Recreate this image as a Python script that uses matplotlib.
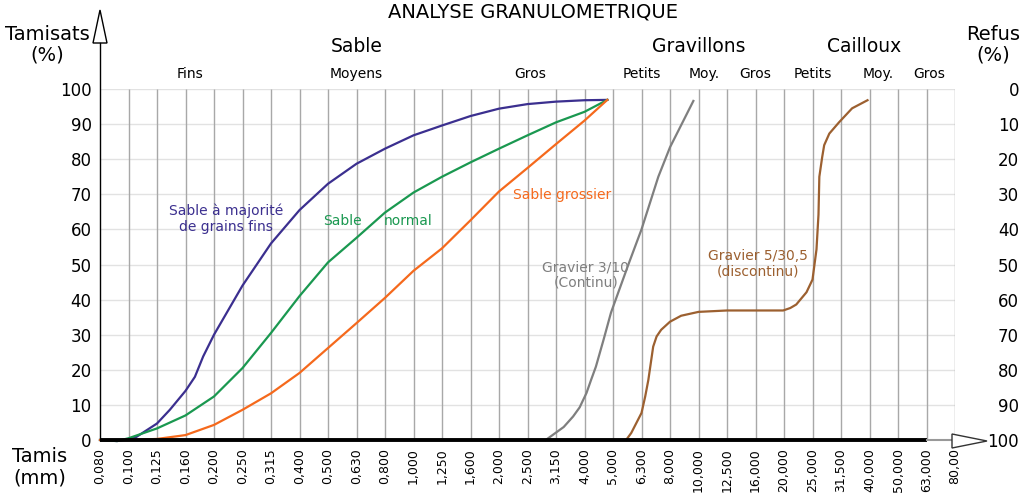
import matplotlib
matplotlib.use('Agg')
import matplotlib.pyplot as plt
from matplotlib.patches import Polygon
from matplotlib.lines import Line2D

# sieve openings (mm), one column per sieve
sieves = ['0,080', '0,100', '0,125', '0,160', '0,200', '0,250', '0,315', '0,400',
          '0,500', '0,630', '0,800', '1,000', '1,250', '1,600', '2,000', '2,500',
          '3,150', '4,000', '5,000', '6,300', '8,000', '10,000', '12,500', '16,000',
          '20,000', '25,000', '31,500', '40,000', '50,000', '63,000', '80,00']
percent_ticks = [0, 10, 20, 30, 40, 50, 60, 70, 80, 90, 100]

# curves: x = position on the sieve scale (column index), y = % passing
fins_x = [0, 0.6, 1, 1.28, 2, 2.45, 3, 3.33, 3.62, 4, 5, 6, 7, 8, 9, 10, 11, 12, 13, 14, 15, 16, 17, 17.8]
fins_y = [0, -0.3, 0.2, 0.9, 4.7, 8.6, 14, 18, 23.8, 30, 44, 56, 65.5, 73, 78.7, 83, 86.8, 89.6, 92.3,
          94.4, 95.7, 96.4, 96.8, 96.9]

normal_x = [0, 0.6, 1, 2, 3, 4, 5, 6, 7, 8, 9, 10, 11, 12, 13, 14, 15, 16, 17, 17.8]
normal_y = [0, -0.3, 0.5, 3.3, 7, 12.4, 20.5, 30.5, 41, 50.6, 57.6, 64.8, 70.5, 75, 79.1, 83, 86.8, 90.5, 93.5, 96.9]

grossier_x = [0, 1, 2, 3, 4, 5, 6, 7, 8, 9, 10, 11, 12, 13, 14, 15, 16, 17, 17.8]
grossier_y = [0, 0, 0.3, 1.4, 4.3, 8.6, 13.3, 19.1, 26.2, 33.3, 40.5, 48.2, 54.6, 62.6, 70.8, 77.5, 84.3, 91, 96.9]

g310_x = [15.64, 16.27, 16.6, 16.83, 17.07, 17.23, 17.4, 17.67, 17.93, 18.54, 19.0, 19.59, 20.0, 20.82]
g310_y = [0, 3.7, 6.7, 9.3, 13.4, 17.1, 20.9, 28.6, 36.3, 50, 60, 75, 83.4, 96.6]

g530_x = [18.46, 18.64, 19.0, 19.13, 19.24, 19.41, 19.53, 19.69, 20.0, 20.39, 21.0, 22.0, 23.03, 23.97,
          24.22, 24.43, 24.79, 25.0, 25.14, 25.21, 25.24, 25.34, 25.41, 25.59, 25.93, 26.39, 26.93]
g530_y = [0, 2, 7.7, 12.4, 17.1, 26.6, 29.5, 31.4, 33.7, 35.4, 36.5, 36.9, 36.9, 36.9,
          37.6, 38.6, 42.1, 45.7, 54.3, 64.2, 75, 80.6, 84, 87.3, 90.5, 94.5, 96.8]

groups = [('Sable', 9.0), ('Gravillons', 21.0), ('Cailloux', 26.8)]
subgroups = [('Fins', 3.15), ('Moyens', 9.0), ('Gros', 15.1), ('Petits', 19.0), ('Moy.', 21.2),
             ('Gros', 23.0), ('Petits', 25.0), ('Moy.', 27.3), ('Gros', 29.1)]

blue = '#3b2f8f'
green = '#1a9850'
orange = '#f5691c'
grey = '#7f7f7f'
brown = '#9c6030'


def fx(x):
    return x / 1024


def fy(y):
    return 1 - y / 496


fig = plt.figure(figsize=(10.24, 4.96), dpi=100)
ax = fig.add_axes([fx(100), fy(440), 855 / 1024, 351 / 496])
ax.set_xlim(0, len(sieves) - 1)
ax.set_ylim(0, 100)

# grid
ax.hlines(percent_ticks[1:], 0, len(sieves) - 1, color='#e2e2e2', lw=1, zorder=1)
ax.vlines(range(1, len(sieves)), 0, 100, color='#a8a8a8', lw=1, zorder=2)
ax.plot([0, 29], [0, 0], color='black', lw=2.8, zorder=5, clip_on=False, solid_capstyle='butt')
ax.plot([29, 30], [0, 0], color='#999999', lw=1.5, zorder=5, clip_on=False)

# curves
kw = dict(lw=1.6, zorder=4, clip_on=False, solid_joinstyle='round')
ax.plot(fins_x, fins_y, color=blue, **kw)
ax.plot(normal_x, normal_y, color=green, **kw)
ax.plot(grossier_x, grossier_y, color=orange, **kw)
ax.plot(g310_x, g310_y, color=grey, **kw)
ax.plot(g530_x, g530_y, color=brown, **kw)

ax.text(4.42, 63, 'Sable à majorité\nde grains fins', color=blue, fontsize=10,
        ha='center', va='center', linespacing=1.25)
ax.text(8.5, 62.3, 'Sable', color=green, fontsize=10, ha='center', va='center')
ax.text(10.8, 62.3, 'normal', color=green, fontsize=10, ha='center', va='center')
ax.text(16.2, 69.7, 'Sable grossier', color=orange, fontsize=10, ha='center', va='center')
ax.text(17.05, 47, 'Gravier 3/10\n(Continu)', color=grey, fontsize=10,
        ha='center', va='center', linespacing=1.15)
ax.text(23.1, 50.3, 'Gravier 5/30,5\n(discontinu)', color=brown, fontsize=10,
        ha='center', va='center', linespacing=1.15)

# axes / ticks
for s in ax.spines.values():
    s.set_visible(False)
ax.set_xticks(range(len(sieves)))
ax.set_xticklabels(sieves, rotation=90, fontsize=9)
ax.set_yticks(percent_ticks)
ax.tick_params(length=0)
ax.tick_params(axis='x', pad=6)
ax.tick_params(axis='y', pad=6, labelsize=12)

ax2 = ax.twinx()
ax2.set_ylim(100, 0)
ax2.set_yticks(percent_ticks)
ax2.tick_params(length=0, pad=46, labelsize=12)
for lab in ax2.get_yticklabels():
    lab.set_horizontalalignment('right')
for s in ax2.spines.values():
    s.set_visible(False)

# left axis line with open arrow
fig.add_artist(Line2D([fx(100), fx(100)], [fy(440), fy(43)], color='black', lw=1))
fig.add_artist(Polygon([[fx(93), fy(43)], [fx(107), fy(43)], [fx(100), fy(10)]],
                       closed=True, fc='white', ec='black', lw=1))
fig.add_artist(Polygon([[fx(952), fy(434)], [fx(952), fy(448)], [fx(987), fy(441)]],
                       closed=True, fc='white', ec='#333333', lw=1))

# headings
for name, pos in groups:
    ax.text(pos, 112, name, fontsize=13.5, ha='center', va='center', clip_on=False)
for name, pos in subgroups:
    ax.text(pos, 104.3, name, fontsize=10, ha='center', va='center', clip_on=False)

fig.text(fx(533), fy(12), 'ANALYSE GRANULOMETRIQUE', fontsize=14, ha='center', va='center')
fig.text(fx(47), fy(45), 'Tamisats\n(%)', fontsize=14, ha='center', va='center', linespacing=1.1)
fig.text(fx(993), fy(45), 'Refus\n(%)', fontsize=14, ha='center', va='center', linespacing=1.1)
fig.text(fx(40), fy(467), 'Tamis\n(mm)', fontsize=14, ha='center', va='center', linespacing=1.15)

fig.savefig('out.png', dpi=100)
